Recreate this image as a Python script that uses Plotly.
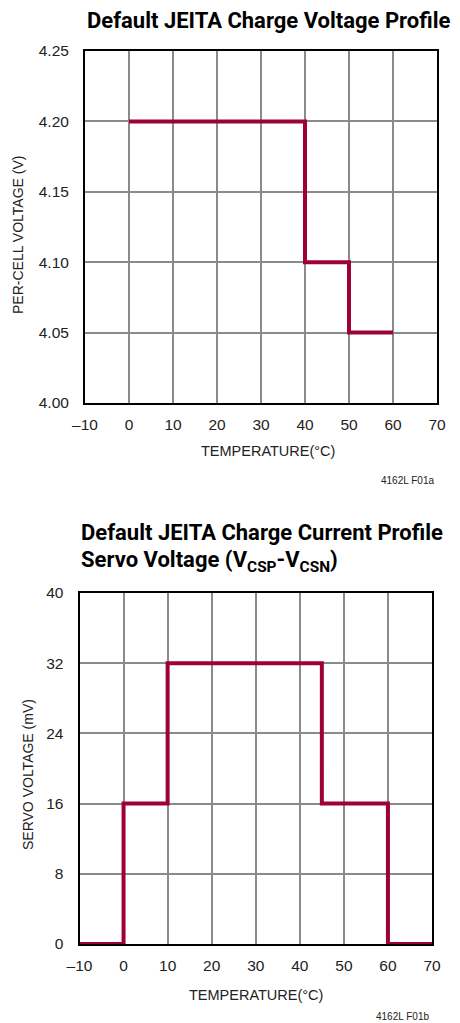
import plotly.graph_objects as go

# Top chart: per-cell charge voltage vs temperature (step profile)
v_temp = [0, 40, 50, 60]
v_volt = [4.20, 4.10, 4.05, 4.05]
v_yticks = [4.00, 4.05, 4.10, 4.15, 4.20, 4.25]

# Bottom chart: servo voltage vs temperature (step profile)
s_temp = [-10, 0, 10, 45, 60, 70]
s_mv = [0, 16, 32, 16, 0, 0]
s_yticks = [0, 8, 16, 24, 32, 40]

x_ticks = [-10, 0, 10, 20, 30, 40, 50, 60, 70]
x_labels = ["\u201310", "0", "10", "20", "30", "40", "50", "60", "70"]

# The page body has an 8px default margin; the figure is sized to fill the rest
OFF = 8
W, H = 460 - OFF, 1023 - OFF
LINE = "#9E0039"
GRID = "#8a8a8a"
FONT = "Liberation Sans, Arial, sans-serif"
TFONT = "Roboto, Liberation Sans, sans-serif"

def px(x):
    return (x - OFF) / W

def py(y):
    return 1 - (y - OFF) / H

fig = go.Figure()
fig.add_trace(go.Scatter(x=v_temp, y=v_volt, mode="lines", line=dict(color=LINE, width=4, shape="hv"),
                         xaxis="x", yaxis="y", showlegend=False))
fig.add_trace(go.Scatter(x=s_temp, y=s_mv, mode="lines", line=dict(color=LINE, width=4, shape="hv"),
                         xaxis="x2", yaxis="y2", showlegend=False))

axis_common = dict(showline=True, linecolor="black", linewidth=2, mirror=True, automargin=False,
                   showgrid=True, gridcolor=GRID, gridwidth=1.5, zeroline=False,
                   ticks="", tickfont=dict(family=FONT, size=15.5, color="#222"))

fig.update_layout(
    width=W, height=H, margin=dict(l=0, r=0, t=0, b=0, autoexpand=False),
    paper_bgcolor="white", plot_bgcolor="white",
    xaxis=dict(domain=[px(85), px(437)], anchor="y", range=[-10, 70], tickvals=x_ticks, ticktext=x_labels,
               ticklabelstandoff=6, **axis_common),
    yaxis=dict(domain=[py(403), py(51)], anchor="x", range=[4.00, 4.25], tickvals=v_yticks,
               tickformat=".2f", ticklabelstandoff=11, **axis_common),
    xaxis2=dict(domain=[px(79.5), px(432)], anchor="y2", range=[-10, 70], tickvals=x_ticks, ticktext=x_labels,
                ticklabelstandoff=6, **axis_common),
    yaxis2=dict(domain=[py(944), py(593)], anchor="x2", range=[0, 40], tickvals=s_yticks,
                ticklabelstandoff=11, **axis_common),
)

ann = [
    dict(text="<b>Default JEITA Charge Voltage Profile</b>", x=px(452), y=py(20), xanchor="right", yanchor="middle",
         font=dict(family=TFONT, size=22, color="black")),
    dict(text="<b>Default JEITA Charge Current Profile</b>", x=px(79), y=py(532), xanchor="left", yanchor="middle",
         font=dict(family=TFONT, size=22, color="black")),
    dict(text="<b>Servo Voltage (V<sub>CSP</sub>-V<sub>CSN</sub>)</b>", x=px(79), y=py(561), xanchor="left", yanchor="middle",
         font=dict(family=TFONT, size=22, color="black")),
    dict(text="TEMPERATURE(\u00b0C)", x=px(268), y=py(451), xanchor="center", yanchor="middle",
         font=dict(family=FONT, size=14.5, color="#222")),
    dict(text="TEMPERATURE(\u00b0C)", x=px(256), y=py(995), xanchor="center", yanchor="middle",
         font=dict(family=FONT, size=14.5, color="#222")),
    dict(text="PER-CELL VOLTAGE (V)", x=px(18), y=py(235), xanchor="center", yanchor="middle", textangle=-90,
         font=dict(family=FONT, size=14, color="#222")),
    dict(text="SERVO VOLTAGE (mV)", x=px(28), y=py(775), xanchor="center", yanchor="middle", textangle=-90,
         font=dict(family=FONT, size=14, color="#222")),
    dict(text="4162L F01a", x=px(436), y=py(480), xanchor="right", yanchor="middle",
         font=dict(family=FONT, size=10, color="#222")),
    dict(text="4162L F01b", x=px(431), y=py(1016), xanchor="right", yanchor="middle",
         font=dict(family=FONT, size=10, color="#222")),
]
for a in ann:
    a.update(xref="paper", yref="paper", showarrow=False)
fig.update_layout(annotations=ann)

fig.write_html("out.html")
